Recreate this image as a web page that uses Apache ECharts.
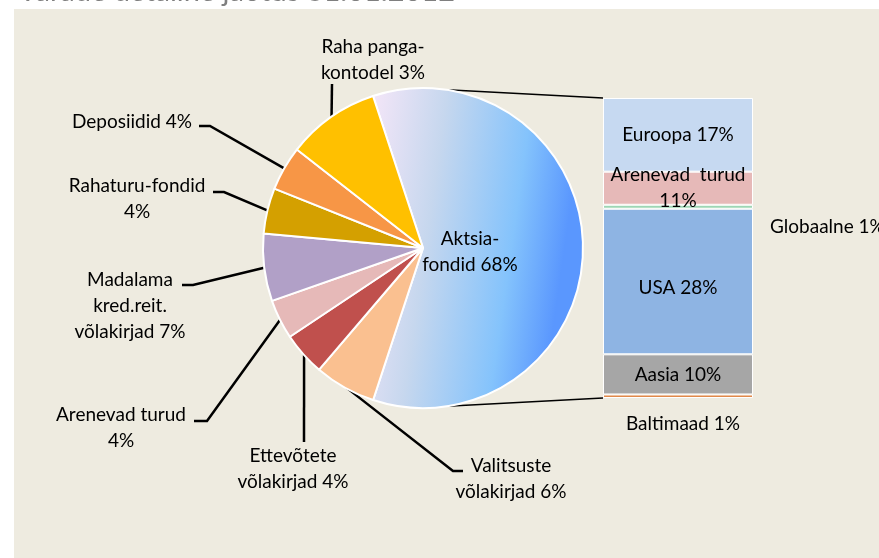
<!DOCTYPE html>
<html>
<head>
<meta charset="utf-8">
<script src="https://cdn.jsdelivr.net/npm/echarts@6/dist/echarts.min.js"></script>
<style>
html, body { margin: 0; padding: 0; background: #fff; }
#chart { width: 879px; height: 558px; }
</style>
</head>
<body>
<div id="chart"></div>
<script>
// pie slices, clockwise from the big slice
var pieNames = ['Aktsiafondid', 'Valitsuste võlakirjad', 'Ettevõtete võlakirjad', 'Arenevad turud',
    'Madalama kred.reit. võlakirjad', 'Rahaturu-fondid', 'Deposiidid', 'Raha pangakontodel'];
var pieValues = [60.1, 6.2, 4.4, 4.0, 6.8, 4.6, 4.5, 9.4];
var pieLabels = ['Aktsia-\nfondid 68%', 'Valitsuste\nvõlakirjad 6%', 'Ettevõtete\nvõlakirjad 4%', 'Arenevad turud\n4%',
    'Madalama\nkred.reit.\nvõlakirjad 7%', 'Rahaturu-fondid\n4%', 'Deposiidid 4%', 'Raha panga-\nkontodel 3%'];
var pieColors = [null, '#FAC090', '#C0504D', '#E6B9B8', '#B1A0C7', '#D4A000', '#F79646', '#FFC000'];

// stacked bar (breakdown of Aktsiafondid), top to bottom
var barNames = ['Euroopa', 'Arenevad turud', 'Globaalne', 'USA', 'Aasia', 'Baltimaad'];
var barValues = [16.7, 7.5, 0.9, 33.0, 9.1, 0.8];
var barLabels = ['Euroopa 17%', 'Arenevad  turud\n11%', 'Globaalne 1%', 'USA 28%', 'Aasia 10%', 'Baltimaad 1%'];
var barColors = ['#C6D9F1', '#E6B9B8', '#9DD6B4', '#8EB4E3', '#A6A6A6', '#E0894A'];

var FONT = 'Lato';
var cx = 423, cy = 248, R = 160, startAngle = 108.2;
var grid = {left: 603, top: 98, width: 150, height: 300};

// label block centres and leader bend points
var pieLabelPlace = [
    {x: 470, y: 252},
    {x: 511, y: 479, line: [[453, 471], [463, 471]]},
    {x: 293, y: 469, line: [[304, 442], [304, 442]]},
    {x: 121, y: 428, line: [[207, 421], [194, 421]]},
    {x: 130, y: 306, line: [[193, 285], [182, 285]]},
    {x: 137, y: 199, line: [[224, 192], [213, 192]]},
    {x: 132, y: 122, line: [[210, 126], [199, 126]]},
    {x: 373, y: 60, line: [[332, 84], [332, 84]]}
];

var total = pieValues.reduce(function (a, b) { return a + b; }, 0);
// point on the edge at the middle of each slice
var edgePoints = [];
var cum = 0;
pieValues.forEach(function (v) {
    var mid = (startAngle - (cum + v / 2) / total * 360) * Math.PI / 180;
    edgePoints.push([cx + (R - 1) * Math.cos(mid), cy - (R - 1) * Math.sin(mid)]);
    cum += v;
});

var pieData = pieValues.map(function (v, i) {
    var item = {name: pieNames[i], value: v, itemStyle: {}};
    if (i === 0) {
        // global gradient, left edge of the slice to the right edge of the pie
        item.itemStyle.color = new echarts.graphic.LinearGradient(cx - 50, cy - 158, cx + R, cy - 128, [
            {offset: 0, color: '#F4E6F8'},
            {offset: 0.35, color: '#C6D7EE'},
            {offset: 0.75, color: '#84C3FC'},
            {offset: 1, color: '#5A97FE'}
        ], true);
        item.label = {position: 'inside'};
        item.labelLine = {show: false};
    } else {
        item.itemStyle.color = pieColors[i];
    }
    return item;
});

var barSeries = barValues.map(function (v, i) {
    var label = {
        show: true, position: 'inside', color: '#000', fontFamily: FONT, fontSize: 19, lineHeight: 26,
        formatter: barLabels[i]
    };
    if (i === 2) { label.position = 'right'; label.distance = 17; label.offset = [0, 20]; }
    if (i === 5) { label.position = 'bottom'; label.distance = 13; label.offset = [5, 0]; }
    if (i === 3) { label.offset = [0, 6]; }
    return {
        name: barNames[i], type: 'bar', stack: 'total', barWidth: '100%',
        data: [v],
        itemStyle: {color: barColors[i], borderColor: '#fff', borderWidth: 1},
        label: label,
        emphasis: {disabled: true}
    };
});

var barSum = barValues.reduce(function (a, b) { return a + b; }, 0);

// series lines from the big slice to the bar
var a1 = 8.6 * Math.PI / 180;
var topPt = [cx + R * Math.sin(a1), cy - R * Math.cos(a1)];
var botPt = [cx + R * Math.sin(a1), cy + R * Math.cos(a1)];

var option = {
    animation: false,
    backgroundColor: '#fff',
    title: {
        text: 'Varade detailne jaotus 31.01.2012',
        left: 13, top: -28,
        textStyle: {color: '#7F7F7F', fontSize: 29, fontWeight: 'normal', fontFamily: FONT}
    },
    graphic: [
        {type: 'rect', z: -10, silent: true, shape: {x: 14, y: 9, width: 900, height: 600}, style: {fill: '#EEEBE0'}},
        {type: 'line', z: 1, silent: true, shape: {x1: topPt[0], y1: topPt[1], x2: grid.left, y2: grid.top}, style: {stroke: '#000', lineWidth: 1.5}},
        {type: 'line', z: 1, silent: true, shape: {x1: botPt[0], y1: botPt[1], x2: grid.left, y2: grid.top + grid.height}, style: {stroke: '#000', lineWidth: 1.5}}
    ],
    grid: grid,
    xAxis: {type: 'category', data: ['a'], show: false},
    yAxis: {type: 'value', min: 0, max: barSum, inverse: true, show: false},
    series: [{
        type: 'pie',
        center: [cx, cy],
        radius: R,
        startAngle: startAngle,
        clockwise: true,
        avoidLabelOverlap: false,
        data: pieData,
        itemStyle: {borderColor: '#fff', borderWidth: 2},
        label: {
            show: true, color: '#000', fontFamily: FONT, fontSize: 19, lineHeight: 26,
            formatter: function (p) { return pieLabels[p.dataIndex]; }
        },
        labelLine: {show: true, length: 10, length2: 10, lineStyle: {color: '#000', width: 2.5}},
        labelLayout: function (p) {
            var L = pieLabelPlace[p.dataIndex];
            var out = {x: L.x, y: L.y, align: 'center', verticalAlign: 'middle'};
            if (L.line) {
                out.labelLinePoints = [edgePoints[p.dataIndex], L.line[0], L.line[1]];
            }
            return out;
        },
        emphasis: {disabled: true}
    }].concat(barSeries)
};

var chart = echarts.init(document.getElementById('chart'));
chart.setOption(option);
</script>
</body>
</html>
